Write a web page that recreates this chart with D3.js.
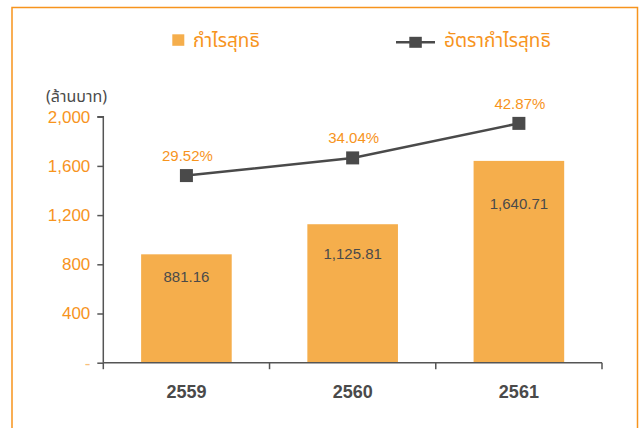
<!DOCTYPE html>
<html>
<head>
<meta charset="utf-8">
<script src="https://cdn.jsdelivr.net/npm/d3@7"></script>
<style>
  html, body { margin: 0; padding: 0; background: #fff; }
  svg { display: block; }
</style>
</head>
<body>
<svg id="chart" width="644" height="428"></svg>
<script>
// ---- data ----
const years = ["2559", "2560", "2561"];
const netProfit = [881.16, 1125.81, 1640.71];
const netProfitLabels = ["881.16", "1,125.81", "1,640.71"];
const margin = [29.52, 34.04, 42.87];
const marginLabels = ["29.52%", "34.04%", "42.87%"];
const yTicks = [0, 400, 800, 1200, 1600, 2000];
const yTickLabels = ["-", "400", "800", "1,200", "1,600", "2,000"];
const legendBar = "กำไรสุทธิ";
const legendLine = "อัตรากำไรสุทธิ";
const unitLabel = "(ล้านบาท)";

// ---- styles ----
const ORANGE = "#f7941d";
const BAR = "#f5ae4c";
const DARK = "#4a4a4a";
const AXIS = "#555555";
const LATIN = "'Liberation Sans', Arial, Helvetica, sans-serif";
const THAI = "'Noto Sans Thai', 'Noto Sans Thai Looped', Loma, Garuda, 'Noto Sans', 'DejaVu Sans', sans-serif";

const svg = d3.select("#chart");

// frame
svg.append("rect")
  .attr("x", 12).attr("y", 7.5)
  .attr("width", 625.5).attr("height", 440)
  .attr("fill", "none").attr("stroke", ORANGE).attr("stroke-width", 1.5);

// scales
const x = d3.scaleBand().domain(years).range([103.3, 602]).paddingInner(0.455).paddingOuter(0.2275);
const y = d3.scaleLinear().domain([0, 2000]).range([362.7, 116.7]);
const y2 = d3.scaleLinear().domain([0, 50]).range([291, 95.5]);

// bars
svg.append("g").selectAll("rect").data(netProfit).join("rect")
  .attr("x", (d, i) => x(years[i]))
  .attr("y", d => y(d))
  .attr("width", x.bandwidth())
  .attr("height", d => y(0) - y(d))
  .attr("fill", BAR);

// bar labels
svg.append("g").selectAll("text").data(netProfit).join("text")
  .attr("x", (d, i) => x(years[i]) + x.bandwidth() / 2)
  .attr("y", d => y(d * 0.79))
  .attr("dy", "0.35em")
  .attr("text-anchor", "middle")
  .attr("font-family", LATIN).attr("font-size", 15)
  .attr("fill", DARK)
  .text((d, i) => netProfitLabels[i]);

// y axis
const yAxis = d3.axisLeft(y).tickValues(yTicks).tickSize(6).tickPadding(7)
  .tickFormat((d, i) => yTickLabels[i]);
const gy = svg.append("g").attr("transform", `translate(${x.range()[0]},0)`).call(yAxis);
gy.select(".domain").attr("stroke", AXIS).attr("stroke-width", 1.5).attr("d", `M-6,${y(2000)}H0V${y(0)}`);
gy.selectAll(".tick line").attr("stroke", AXIS).attr("stroke-width", 1.5);
gy.selectAll(".tick text")
  .attr("font-family", LATIN).attr("font-size", 17)
  .attr("fill", d => d === 0 ? "#f9c07c" : ORANGE);

// x axis with ticks at band boundaries
const gx = svg.append("g").attr("transform", `translate(0,${y(0)})`);
gx.append("line")
  .attr("x1", x.range()[0]).attr("x2", x.range()[1])
  .attr("y1", 0).attr("y2", 0)
  .attr("stroke", AXIS).attr("stroke-width", 1.5);
const boundaries = years.map(v => x(v) - x.step() * x.paddingInner() / 2).concat([x.range()[1]]);
boundaries[0] = x.range()[0];
gx.selectAll("line.tk").data(boundaries).join("line").attr("class", "tk")
  .attr("x1", d => d).attr("x2", d => d)
  .attr("y1", 0).attr("y2", 6.5)
  .attr("stroke", AXIS).attr("stroke-width", 1.5);
gx.selectAll("text").data(years).join("text")
  .attr("x", d => x(d) + x.bandwidth() / 2)
  .attr("y", 29)
  .attr("dy", "0.35em")
  .attr("text-anchor", "middle")
  .attr("font-family", LATIN).attr("font-size", 18).attr("font-weight", "bold")
  .attr("fill", DARK)
  .text(d => d);

// line series
const lx = (i) => x(years[i]) + x.bandwidth() / 2;
const line = d3.line().x((d, i) => lx(i)).y(d => y2(d));
svg.append("path").datum(margin)
  .attr("d", line)
  .attr("fill", "none").attr("stroke", DARK).attr("stroke-width", 2.5);
svg.append("g").selectAll("rect").data(margin).join("rect")
  .attr("x", (d, i) => lx(i) - 6.5)
  .attr("y", d => y2(d) - 6.5)
  .attr("width", 13).attr("height", 13)
  .attr("fill", DARK);
svg.append("g").selectAll("text").data(margin).join("text")
  .attr("x", (d, i) => lx(i) + 1)
  .attr("y", d => y2(d) - 20)
  .attr("dy", "0.35em")
  .attr("text-anchor", "middle")
  .attr("font-family", LATIN).attr("font-size", 15)
  .attr("fill", ORANGE)
  .text((d, i) => marginLabels[i]);

// unit label
svg.append("text")
  .attr("x", 46).attr("y", 96).attr("dy", "0.35em")
  .attr("font-family", THAI).attr("font-size", 16)
  .attr("fill", DARK)
  .text(unitLabel);

// legend
const lg = svg.append("g");
lg.append("rect").attr("x", 172.3).attr("y", 34.3).attr("width", 12).attr("height", 11.5).attr("fill", BAR);
lg.append("text").attr("x", 193).attr("y", 40.5).attr("dy", "0.35em")
  .attr("font-family", THAI).attr("font-size", 19).attr("fill", ORANGE)
  .text(legendBar);
lg.append("line").attr("x1", 396).attr("x2", 435).attr("y1", 42.3).attr("y2", 42.3)
  .attr("stroke", DARK).attr("stroke-width", 2.5);
lg.append("rect").attr("x", 409.3).attr("y", 36.8).attr("width", 12.5).attr("height", 11).attr("fill", DARK);
lg.append("text").attr("x", 444).attr("y", 40.5).attr("dy", "0.35em")
  .attr("font-family", THAI).attr("font-size", 19).attr("fill", ORANGE)
  .text(legendLine);
</script>
</body>
</html>
